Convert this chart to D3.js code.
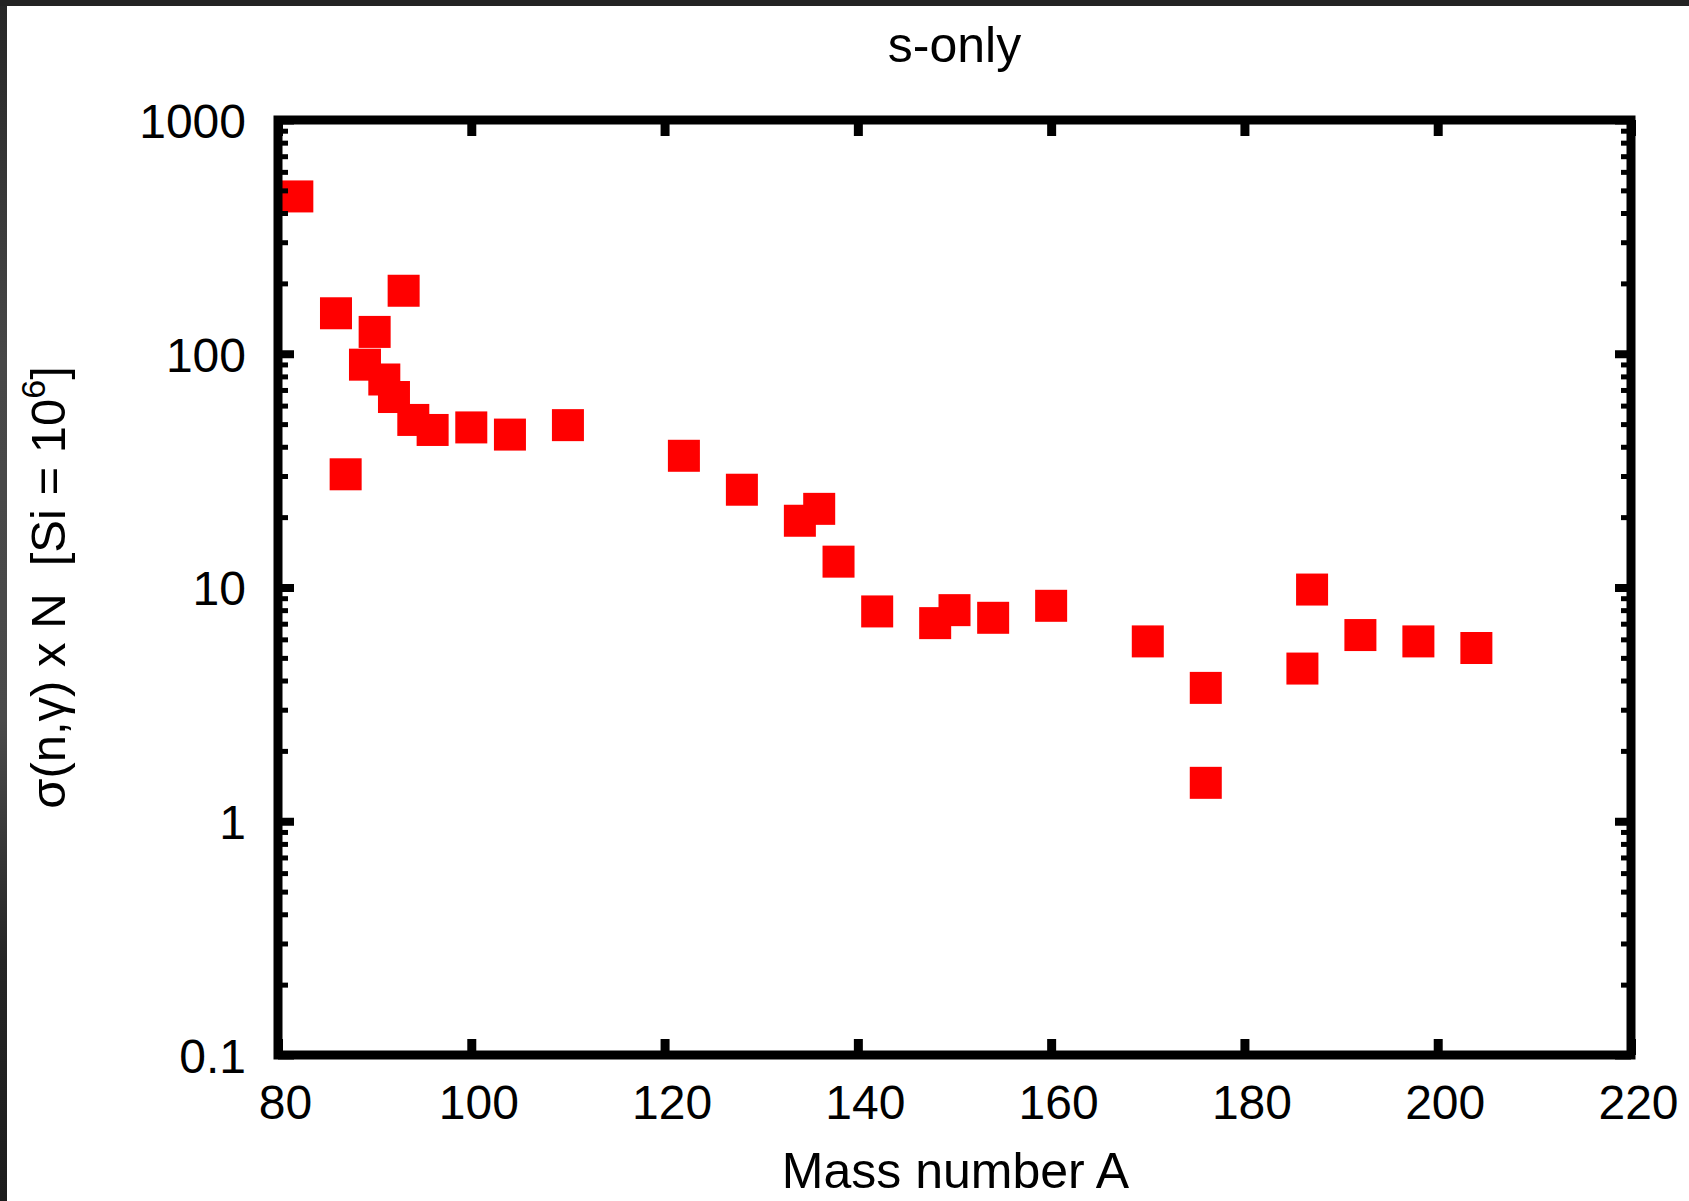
<!DOCTYPE html>
<html>
<head>
<meta charset="utf-8">
<script src="https://cdn.jsdelivr.net/npm/d3@7"></script>
<style>
  html, body { margin: 0; padding: 0; background: #ffffff; }
  svg { display: block; }
  text { font-family: "Liberation Sans", Arial, sans-serif; fill: #000; }
</style>
</head>
<body>
<svg id="chart" width="1689" height="1201"></svg>
<script>
// ---- data ----
const massNumbers = [82, 86, 87, 89, 90, 91, 92, 93, 94, 96, 100, 104, 110, 122, 128, 134, 136, 138, 142, 148, 150, 154, 160, 170, 176, 176, 186, 187, 192, 198, 204];
const sigmaN      = [471, 149, 30.5, 89.8, 124, 77.6, 65.3, 186, 52.1, 47.2, 48.4, 45.1, 49.5, 36.6, 26.2, 19.3, 21.7, 12.9, 7.9, 7.04, 8.0, 7.42, 8.35, 5.88, 3.72, 1.46, 4.5, 9.8, 6.26, 5.88, 5.51];
const xTickValues = [80, 100, 120, 140, 160, 180, 200, 220];
const yTickValues = [0.1, 1, 10, 100, 1000];
const yTickLabels = ["0.1", "1", "10", "100", "1000"];
const titleText = "s-only";
const xTitle = "Mass number A";

(function () {
// ---- layout ----
const W = 1689, H = 1201;
const pL = 278, pR = 1631, pT = 120, pB = 1055;
const svg = d3.select("#chart");

svg.append("rect").attr("width", W).attr("height", H).attr("fill", "#ffffff");

// dark window frame (top and left edges)
const defs = svg.append("defs");
const grad = defs.append("linearGradient").attr("id", "edgeGrad")
  .attr("x1", 0).attr("y1", 0).attr("x2", 0).attr("y2", 1);
grad.append("stop").attr("offset", "0%").attr("stop-color", "#262626");
grad.append("stop").attr("offset", "30%").attr("stop-color", "#474747");
grad.append("stop").attr("offset", "60%").attr("stop-color", "#4a4a4a");
grad.append("stop").attr("offset", "80%").attr("stop-color", "#252525");
grad.append("stop").attr("offset", "100%").attr("stop-color", "#1c1c1c");
svg.append("rect").attr("x", 0).attr("y", 0).attr("width", 7).attr("height", H).attr("fill", "url(#edgeGrad)");
svg.append("rect").attr("x", 0).attr("y", 0).attr("width", W).attr("height", 6).attr("fill", "#232323");

const x = d3.scaleLinear().domain([80, 220]).range([pL, pR]);
const y = d3.scaleLog().domain([0.1, 1000]).range([pB, pT]);

// minor ticks for log axis
const yMinor = [];
for (let e = -1; e < 3; e++) {
  for (let m = 2; m <= 9; m++) yMinor.push(m * Math.pow(10, e));
}

// ---- points ----
const data = massNumbers.map((a, i) => ({a, v: sigmaN[i]}));
const S = 32;
svg.append("g").selectAll("rect").data(data).join("rect")
  .attr("x", d => x(d.a) - S / 2)
  .attr("y", d => y(d.v) - S / 2)
  .attr("width", S).attr("height", S)
  .attr("fill", "#ff0000");

// ---- axes ----
function styleAxis(g, w) {
  g.select(".domain").remove();
  g.selectAll(".tick line").attr("stroke", "#000").attr("stroke-width", w);
}

// bottom (with labels)
const gB = svg.append("g").attr("transform", `translate(0,${pB})`)
  .call(d3.axisBottom(x).tickValues(xTickValues).tickSize(-16).tickPadding(30).tickFormat(d3.format("d")));
styleAxis(gB, 9);
gB.selectAll(".tick text").attr("font-size", 48).attr("dx", 7)
  .style("font-family", '"Liberation Sans", Arial, sans-serif').attr("fill", "#000");

// top
const gT = svg.append("g").attr("transform", `translate(0,${pT})`)
  .call(d3.axisTop(x).tickValues(xTickValues).tickSize(-16).tickFormat(""));
styleAxis(gT, 9);

// left (with labels)
const gL = svg.append("g").attr("transform", `translate(${pL},0)`)
  .call(d3.axisLeft(y).tickValues(yTickValues).tickSize(-16).tickPadding(32)
    .tickFormat((d, i) => yTickLabels[i]));
styleAxis(gL, 8);
gL.selectAll(".tick text").attr("font-size", 48).attr("dy", "0.36em")
  .style("font-family", '"Liberation Sans", Arial, sans-serif').attr("fill", "#000");

const gLm = svg.append("g").attr("transform", `translate(${pL},0)`)
  .call(d3.axisLeft(y).tickValues(yMinor).tickSize(-10).tickFormat(""));
styleAxis(gLm, 5);

// right
const gR = svg.append("g").attr("transform", `translate(${pR},0)`)
  .call(d3.axisRight(y).tickValues(yTickValues).tickSize(-16).tickFormat(""));
styleAxis(gR, 8);
const gRm = svg.append("g").attr("transform", `translate(${pR},0)`)
  .call(d3.axisRight(y).tickValues(yMinor).tickSize(-10).tickFormat(""));
styleAxis(gRm, 5);

// frame
svg.append("rect")
  .attr("x", pL).attr("y", pT)
  .attr("width", pR - pL).attr("height", pB - pT)
  .attr("fill", "none").attr("stroke", "#000").attr("stroke-width", 9);

// ---- titles ----
svg.append("text").attr("x", (pL + pR) / 2).attr("y", 62)
  .attr("text-anchor", "middle").attr("font-size", 50).text(titleText);

svg.append("text").attr("x", (pL + pR) / 2 + 1).attr("y", 1188)
  .attr("text-anchor", "middle").attr("font-size", 50).text(xTitle);

const yl = svg.append("text")
  .attr("transform", `translate(65,${(pT + pB) / 2}) rotate(-90)`)
  .attr("text-anchor", "middle").attr("font-size", 49)
  .style("white-space", "pre");
yl.append("tspan").text("σ(n,γ) x N  [Si = 10");
yl.append("tspan").attr("font-size", 34).attr("dy", -20).text("6");
yl.append("tspan").attr("dy", 20).text("]");
})();
</script>
</body>
</html>
